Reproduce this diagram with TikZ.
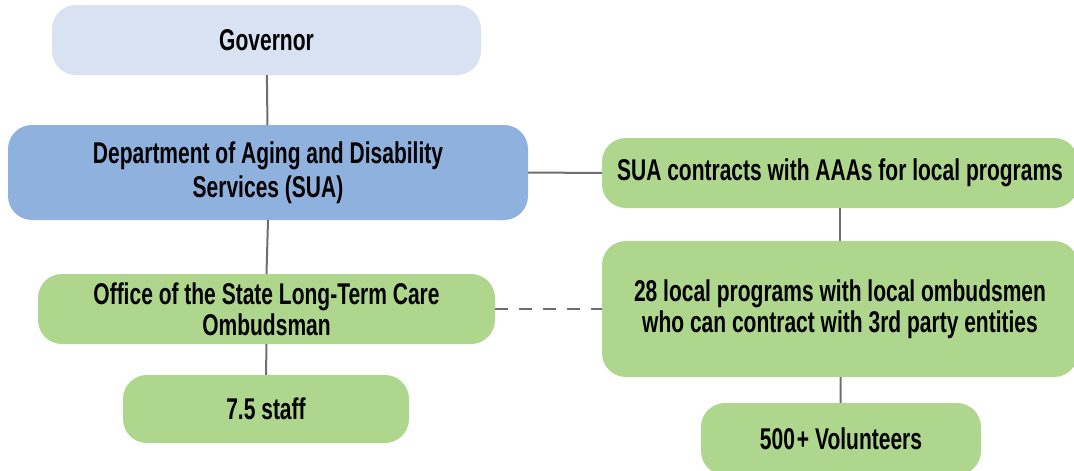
\documentclass[tikz,border=0pt]{standalone}
\usepackage{fontspec}
\setmainfont[FakeStretch=0.70]{Liberation Sans}
\usetikzlibrary{positioning}

\definecolor{govfill}{HTML}{D9E2F3}
\definecolor{suafill}{HTML}{8FB1DE}
\definecolor{localfill}{HTML}{AED68C}
\definecolor{linkgray}{HTML}{6E6E70}

\begin{document}
\begin{tikzpicture}[
    x=1pt, y=-1pt,
    box/.style={rounded corners=24pt, inner sep=0pt, align=center,
                font=\fontsize{30}{31}\selectfont\bfseries},
    gov/.style={box, fill=govfill},
    sua/.style={box, fill=suafill, font=\fontsize{30}{34}\selectfont\bfseries},
    local/.style={box, fill=localfill},
    link/.style={linkgray, line width=2pt},
    dotlink/.style={link, dash pattern=on 13pt off 11pt},
]
\useasboundingbox (0,0) rectangle (1074,471);

% --- state level (left column) ---
\node[gov, minimum width=429pt, minimum height=70pt] (governor) at (266.5,40) {Governor};
\node[sua, minimum width=520pt, minimum height=95pt] (dads) at (268,172.5)
    {Department of Aging and Disability\\Services (SUA)};
\node[local, minimum width=457pt, minimum height=70pt] (office) at (266.5,309)
    {Office of the State Long-Term Care\\Ombudsman};
\node[local, minimum width=286pt, minimum height=68pt] (staff) at (266,409) {7.5 staff};

% --- local level (right column) ---
\node[local, minimum width=476pt, minimum height=70pt] (contracts) at (840,173)
    {SUA contracts with AAAs for local programs};
\node[local, minimum width=476pt, minimum height=136pt] (programs) at (840,309)
    {28 local programs with local ombudsmen\\who can contract with 3rd party entities};
\node[local, minimum width=280pt, minimum height=72pt] (volunteers) at (841,439)
    {500\kern2pt+ Volunteers};

% Connectors
\draw[link] (governor) -- (dads);
\draw[link] (dads.south) -- (office.north);
\draw[link] (office) -- (staff);
\draw[link] (dads.east) -- (contracts.west);
\draw[link] (contracts) -- (programs);
\draw[link] (programs) -- (volunteers);
\draw[dotlink] (office.east) -- (programs.west);

\end{tikzpicture}
\end{document}
